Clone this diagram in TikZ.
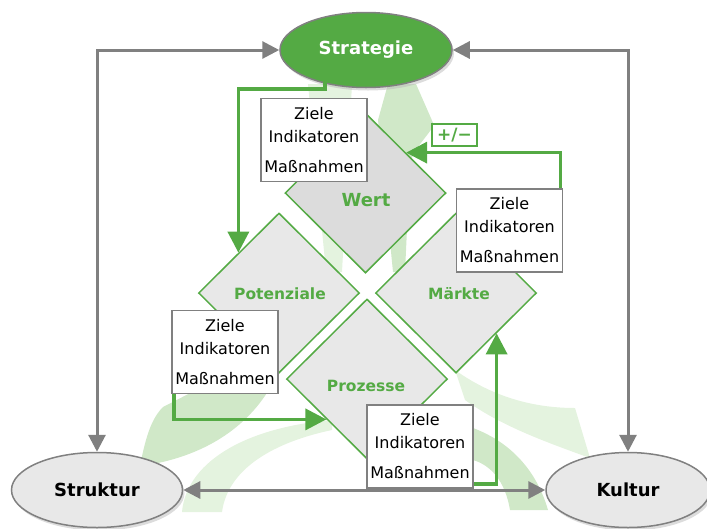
\documentclass[tikz,border=0pt]{standalone}
\usepackage{fontspec}
\setmainfont{DejaVu Sans}
\usetikzlibrary{shapes.geometric,arrows.meta,shadows}
\definecolor{gr}{RGB}{84,170,68}
\definecolor{gy}{RGB}{128,128,128}
\definecolor{lg}{RGB}{232,232,232}
\definecolor{dg}{RGB}{220,220,220}
\definecolor{bandA}{RGB}{208,232,200}
\definecolor{bandB}{RGB}{228,243,223}
\begin{document}
\begin{tikzpicture}[x=1pt,y=-1pt,
  ell/.style={ellipse, draw=gy, line width=1.5pt, inner sep=0pt,
    minimum height=75pt, font=\fontsize{18}{20}\selectfont\bfseries,
    drop shadow={shadow xshift=2pt,shadow yshift=-3pt,fill=gray!55}},
  dia/.style={diamond, draw=gr, line width=1.5pt, fill=lg,
    minimum width=161pt, minimum height=160pt, inner sep=0pt},
  dlbl/.style={text=gr, font=\fontsize{15.5}{18}\selectfont\bfseries, inner sep=0pt},
  zbox/.style={draw=gy, line width=1.8pt, fill=white, minimum width=106pt,
    minimum height=83pt, align=center, inner sep=0pt, font=\fontsize{16}{23}\selectfont},
  garrow/.style={draw=gr, line width=3.5pt, -{Triangle[length=21pt,width=21pt]}},
  gyarrow/.style={draw=gy, line width=3pt,
    {Triangle[length=17pt,width=17pt]}-{Triangle[length=17pt,width=17pt]}},
]
\useasboundingbox (0,0) rectangle (707,528);

% background swirl bands
\fill[bandB] (308,84) -- (352,84) -- (342,272) -- (326,272) -- cycle;
\fill[bandA] (388,84) -- (416,84) -- (434,125) .. controls (425,140) and (412,150) .. (410,165) -- (405,272) -- (393,272) -- (378,120) -- cycle;
\fill[bandA] (140,466) .. controls (146,435) and (152,418) .. (163,407) -- (200,388) -- (270,388) .. controls (248,425) and (210,452) .. (158,463) -- cycle;
\fill[bandB] (182,512) .. controls (186,465) and (240,428) .. (332,420) -- (332,430) .. controls (275,442) and (228,468) .. (222,512) -- cycle;
\fill[bandB] (455,370) .. controls (490,395) and (530,408) .. (575,408) -- (590,458) .. controls (540,440) and (500,425) .. (465,400) -- cycle;
\fill[bandA] (473,428) .. controls (505,440) and (535,465) .. (548,510) -- (510,510) .. controls (505,480) and (490,465) .. (473,460) -- cycle;

% diamonds
\node[dia, fill=dg] (wert) at (365.5,193) {};
\node[dia] (pot) at (279,293) {};
\node[dia] (mar) at (456,293) {};
\node[dia] (proz) at (367,379) {};
\node[dlbl, font=\fontsize{18}{20}\selectfont\bfseries] (wertl) at (366,200) {Wert};
\node[dlbl] (potl) at (280,294) {Potenziale};
\node[dlbl] (marl) at (459,294) {Märkte};
\node[dlbl] (prozl) at (366,386) {Prozesse};

% boxes
\node[zbox] (b1) at (314,140) {Ziele\\Indikatoren\\[7pt]Maßnahmen};
\node[zbox] (b2) at (509.5,230.5) {Ziele\\Indikatoren\\[7pt]Maßnahmen};
\node[zbox] (b3) at (225,352) {Ziele\\Indikatoren\\[7pt]Maßnahmen};
\node[zbox] (b4) at (420,446.5) {Ziele\\Indikatoren\\[7pt]Maßnahmen};

\node[draw=gr, line width=1.5pt, fill=white, text=gr, inner sep=0pt,
  minimum width=45pt, minimum height=22pt,
  font=\fontsize{17}{19}\selectfont\bfseries] (pm) at (454.5,135) {+/−};

% ellipses
\node[ell, fill=gr, text=white, minimum width=172pt] (strat) at (366,50) {Strategie};
\node[ell, fill=lg, minimum width=171pt] (struk) at (97,490) {Struktur};
\node[ell, fill=lg, minimum width=164pt] (kult) at (628,490) {Kultur};

% green connectors
\coordinate (s1) at (325,82);
\draw[garrow] (s1) -- ++(0,7) -| (pot.north west);
\draw[garrow] ([xshift=-3pt]b2.north east) |- (wert.north east);
\draw[garrow] ([xshift=3pt]b3.south west) |- (proz.south west);
\draw[garrow] ([yshift=5pt]b4.south east) -| (mar.south east);

% gray connectors
\draw[gyarrow] (strat.west) -| (struk.north);
\draw[gyarrow] (strat.east) -| (kult.north);
\draw[gyarrow] (struk.east) -- (kult.west);
\end{tikzpicture}
\end{document}
